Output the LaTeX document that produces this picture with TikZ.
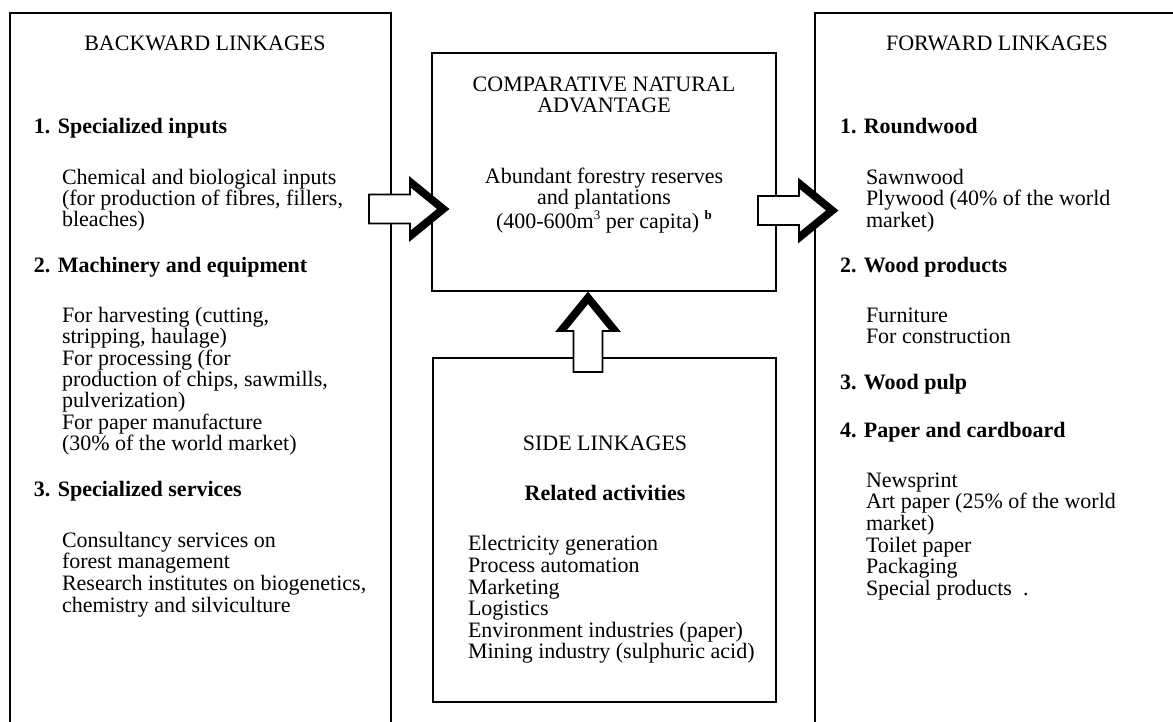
\documentclass[tikz,border=0pt]{standalone}
\usepackage{fontspec}
\setmainfont{Liberation Serif}
\usetikzlibrary{calc}
\tikzset{
  box/.style={draw, line width=1.8pt, inner sep=0pt, outer sep=0pt, rectangle},
  txt/.style={font=\fontsize{22}{24}\selectfont, inner sep=0pt, outer sep=0pt, anchor=base west},
  hd/.style={txt, font=\fontsize{22}{24}\selectfont\bfseries},
  ctr/.style={txt, anchor=base},
  arrowline/.style={draw=black, fill=white, line width=1.8pt, line join=miter},
  fatarrow/.pic={
    \path[arrowline] (0,0) -- (-38,-31) -- (-38,-14.5) -- (-79,-14.5) -- (-79,14.5) -- (-38,14.5) -- (-38,31) -- cycle;
    \fill[black] (-38,-31) -- (0,0) -- (-38,31) -- (-38,22) -- (-11,0) -- (-38,-22) -- cycle;
  }
}
\newcommand\mytline[4]{\node[txt] (#1) at (#2,#3) {#4};}
\newcommand\mybline[4]{\node[hd] (#1) at (#2,#3) {#4};}
\newcommand\myctrline[4]{\node[ctr] (#1) at (#2,#3) {#4};}
\newcommand\mysup[1]{\raisebox{0.4em}{\fontsize{13}{13}\selectfont #1}}
\begin{document}
\begin{tikzpicture}[x=1pt,y=-1pt]
\useasboundingbox (0,0) rectangle (1173,721);
\fill[white] (0,0) rectangle (1173,721);
\clip (0,0) rectangle (1173,721);

% boxes
\node[box, minimum width=381pt, minimum height=760pt, anchor=north west] (back) at (10,13) {};
\node[box, minimum width=344pt, minimum height=238pt, anchor=north west] (cmp) at (432,53) {};
\node[box, minimum width=343pt, minimum height=344pt, anchor=north west] (side) at (433,358) {};
\node[box, minimum width=400pt, minimum height=760pt, anchor=north west] (fwd) at (815,13) {};

% block arrows
\pic at ([shift={(16,156)}]cmp.north west) {fatarrow};
\pic at ([shift={(22,197.5)}]fwd.north west) {fatarrow};
\pic[rotate=90] at ([shift={(-16,2)}]cmp.south) {fatarrow};

% left box
\myctrline{bt}{205}{50}{BACKWARD LINKAGES}
\mybline{b1}{34}{133}{1. Specialized inputs}
\mytline{b11}{62}{184}{Chemical and biological inputs}
\mytline{b12}{62}{205}{(for production of fibres, fillers,}
\mytline{b13}{62}{226}{bleaches)}
\mybline{b2}{34}{272}{2. Machinery and equipment}
\mytline{b21}{62}{322}{For harvesting (cutting,}
\mytline{b22}{62}{343}{stripping, haulage)}
\mytline{b23}{62}{365}{For processing (for}
\mytline{b24}{62}{386}{production of chips, sawmills,}
\mytline{b25}{62}{407}{pulverization)}
\mytline{b26}{62}{429}{For paper manufacture}
\mytline{b27}{62}{450}{(30\% of the world market)}
\mybline{b3}{34}{496}{3. Specialized services}
\mytline{b31}{62}{547}{Consultancy services on}
\mytline{b32}{62}{568}{forest management}
\mytline{b33}{62}{590}{Research institutes on biogenetics,}
\mytline{b34}{62}{612}{chemistry and silviculture}

% centre top box
\myctrline{c1}{604}{91}{COMPARATIVE NATURAL}
\myctrline{c2}{604}{112}{ADVANTAGE}
\myctrline{c3}{604}{183}{Abundant forestry reserves}
\myctrline{c4}{604}{204}{and plantations}
\myctrline{c5}{604}{228}{(400-600m\mysup{3} per capita) \mysup{\textbf{b}}}

% side box
\myctrline{s0}{605}{450}{SIDE LINKAGES}
\node[hd, anchor=base] (s1) at (605,500) {Related activities};
\mytline{s2}{468}{550}{Electricity generation}
\mytline{s3}{468}{572}{Process automation}
\mytline{s4}{468}{594}{Marketing}
\mytline{s5}{468}{615}{Logistics}
\mytline{s6}{468}{637}{Environment industries (paper)}
\mytline{s7}{468}{658}{Mining industry (sulphuric acid)}

% right box
\myctrline{ft}{997}{50}{FORWARD LINKAGES}
\mybline{f1}{840}{133}{1. Roundwood}
\mytline{f11}{866}{184}{Sawnwood}
\mytline{f12}{866}{205}{Plywood (40\% of the world}
\mytline{f13}{866}{227}{market)}
\mybline{f2}{840}{272}{2. Wood products}
\mytline{f21}{866}{322}{Furniture}
\mytline{f22}{866}{343}{For construction}
\mybline{f3}{840}{389}{3. Wood pulp}
\mybline{f4}{840}{437}{4. Paper and cardboard}
\mytline{f41}{866}{487}{Newsprint}
\mytline{f42}{866}{508}{Art paper (25\% of the world}
\mytline{f43}{866}{530}{market)}
\mytline{f44}{866}{552}{Toilet paper}
\mytline{f45}{866}{573}{Packaging}
\mytline{f46}{866}{595}{Special products\ \ .}
\end{tikzpicture}
\end{document}
